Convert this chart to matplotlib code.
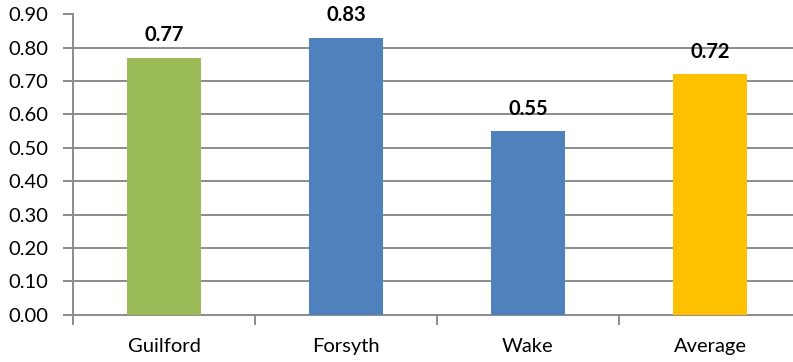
import matplotlib
matplotlib.use("Agg")
import matplotlib.pyplot as plt
import numpy as np

categories = ["Guilford", "Forsyth", "Wake", "Average"]
values = [0.77, 0.83, 0.55, 0.72]
bar_colors = ["#9BBB59", "#4F81BD", "#4F81BD", "#FFC000"]
y_ticks = [0.0, 0.1, 0.2, 0.3, 0.4, 0.5, 0.6, 0.7, 0.8, 0.9]

plt.rcParams["font.family"] = ["Lato", "DejaVu Sans"]

W, H = 793, 362
fig = plt.figure(figsize=(W / 100, H / 100), dpi=100)
left, right = 73 / W, 801 / W
bottom, top = (H - 314.5) / H, (H - 14.5) / H
ax = fig.add_axes([left, bottom, right - left, top - bottom])

grid_c = "#8C8C8C"
x = np.arange(len(categories))
ax.bar(x, values, width=0.41, color=bar_colors, zorder=3)

for xi, v in zip(x, values):
    ax.annotate(f"{v:.2f}", (xi, v), xytext=(0, 9), textcoords="offset points",
                ha="center", va="bottom", fontsize=14.5, fontweight="bold", color="black")

ax.set_xlim(-0.5, len(categories) - 0.5)
ax.set_ylim(0, 0.9)
ax.set_yticks(y_ticks)
ax.set_yticklabels([f"{t:.2f}" for t in y_ticks])
ax.yaxis.grid(True, color=grid_c, linewidth=1.4, zorder=0)
ax.set_axisbelow(True)

ax.set_xticks(x)
ax.set_xticklabels(categories)
ax.set_xticks(np.arange(len(categories) + 1) - 0.5, minor=True)
ax.tick_params(axis="x", which="major", length=0, pad=17, labelsize=14.5)
ax.tick_params(axis="x", which="minor", length=7, width=1.4, color=grid_c, direction="out")
ax.tick_params(axis="y", length=7, width=1.4, color=grid_c, direction="out", pad=11, labelsize=14.5)

for s in ["top", "right"]:
    ax.spines[s].set_visible(False)
for s in ["left", "bottom"]:
    ax.spines[s].set_color(grid_c)
    ax.spines[s].set_linewidth(1.4)

fig.savefig("out.png", dpi=100)
